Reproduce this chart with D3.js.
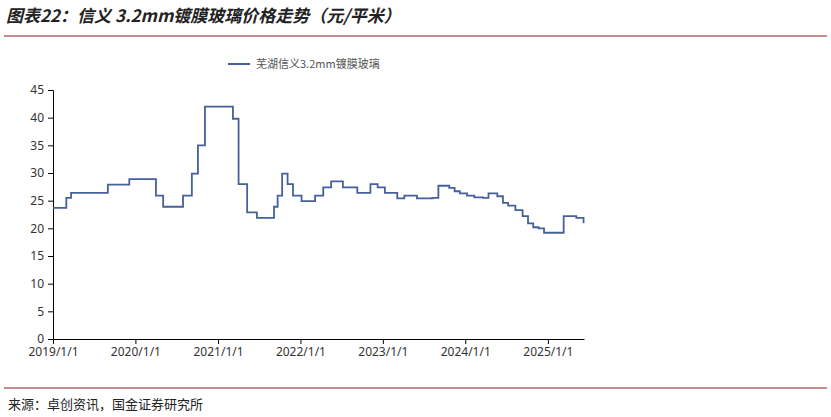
<!DOCTYPE html><html><head><meta charset="utf-8"><script src="https://cdn.jsdelivr.net/npm/d3@7"></script>
<style>body{margin:0;background:#fff;font-family:"Noto Sans CJK SC","Noto Sans",sans-serif}</style></head><body><svg id="c" width="831" height="417"></svg><script>
const dates=["2019-01-01","2019-03-01","2019-03-22","2019-09-01","2019-12-05","2020-04-01","2020-05-03","2020-07-30","2020-09-07","2020-10-04","2020-11-04","2021-03-08","2021-04-02","2021-05-10","2021-06-22","2021-09-06","2021-09-22","2021-10-12","2021-11-05","2021-11-29","2022-01-06","2022-03-07","2022-04-12","2022-05-17","2022-07-08","2022-09-10","2022-11-07","2022-12-09","2023-01-10","2023-03-06","2023-04-06","2023-06-01","2023-08-08","2023-09-04","2023-10-22","2023-11-15","2023-12-08","2024-01-09","2024-02-10","2024-03-20","2024-04-13","2024-05-22","2024-06-16","2024-07-09","2024-08-10","2024-09-11","2024-10-05","2024-10-28","2024-11-21","2024-12-15","2025-03-12","2025-05-07","2025-06-08"];
const values=[23.7,25.5,26.4,27.9,28.9,25.9,23.9,25.9,29.9,35,42,39.8,28,22.9,21.9,23.9,25.9,29.9,28,25.9,24.9,25.9,27.4,28.5,27.4,26.4,28,27.4,26.4,25.4,25.9,25.4,25.5,27.7,27.3,26.7,26.3,25.9,25.6,25.5,26.3,25.8,24.6,24.1,23.3,22.2,20.9,20.2,20.0,19.2,22.2,21.9,20.9];
const yTicks=[0,5,10,15,20,25,30,35,40,45];
const xTickLabels=["2019/1/1","2020/1/1","2021/1/1","2022/1/1","2023/1/1","2024/1/1","2025/1/1"];
const seriesName="芜湖信义3.2mm镀膜玻璃";
const svg=d3.select("#c"),p=d3.timeParse("%Y-%m-%d");
const data=dates.map((d,i)=>({d:p(d),v:values[i]}));
const x=d3.scaleTime().domain([p("2019-01-01"),p("2025-06-10")]).range([53,584]);
const y=d3.scaleLinear().domain([0,45]).range([339,90]);
svg.append("text").attr("x",6).attr("y",22).attr("font-size",17).attr("font-weight","bold").attr("font-style","italic").attr("fill","#222").text("图表22：信义 3.2mm镀膜玻璃价格走势（元/平米）");
svg.append("line").attr("x1",4).attr("x2",827).attr("y1",36).attr("y2",36).attr("stroke","#8b1a1a").attr("stroke-width",1);
const ya=svg.append("g").attr("transform","translate(53,0)").call(d3.axisLeft(y).tickValues(yTicks).tickSize(5).tickPadding(4));
const xa=svg.append("g").attr("transform","translate(0,339)").call(d3.axisBottom(x).tickValues(xTickLabels.map(s=>d3.timeParse("%Y/%m/%d")(s))).tickFormat((d,i)=>xTickLabels[i]).tickSize(5).tickSizeOuter(0));
[ya,xa].forEach(g=>{g.selectAll("text").attr("font-size",12).attr("fill","#333").attr("font-family","Noto Sans, sans-serif");g.selectAll("line,path").attr("stroke","#000");});
svg.append("path").datum(data).attr("fill","none").attr("stroke","#44619b").attr("stroke-width",1.8)
 .attr("d",d3.line().x(d=>x(d.d)).y(d=>y(d.v)).curve(d3.curveStepAfter));
svg.append("line").attr("x1",228).attr("x2",250).attr("y1",64).attr("y2",64).attr("stroke","#44619b").attr("stroke-width",2);
svg.append("text").attr("x",256).attr("y",68).attr("font-size",11).attr("fill","#555").text(seriesName);
svg.append("line").attr("x1",4).attr("x2",827).attr("y1",388).attr("y2",388).attr("stroke","#8b1a1a").attr("stroke-width",1);
svg.append("text").attr("x",8).attr("y",409).attr("font-size",13).attr("fill","#222").text("来源：卓创资讯，国金证券研究所");
</script></body></html>
